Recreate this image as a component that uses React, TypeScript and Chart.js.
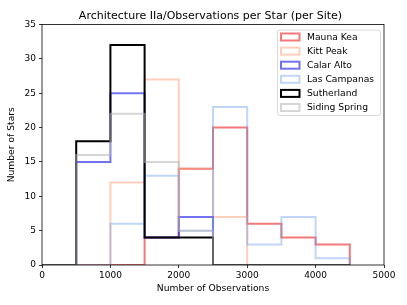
import React, { useEffect, useRef } from "react";
import { Chart, registerables } from "chart.js";

Chart.register(...registerables);

const binEdges = [0, 500, 1000, 1500, 2000, 2500, 3000, 3500, 4000, 4500];
const siteNames = ["Mauna Kea", "Kitt Peak", "Calar Alto", "Las Campanas", "Sutherland", "Siding Spring"];
const maunaKea = [0, 0, 0, 4, 14, 20, 6, 4, 3];
const kittPeak = [0, 0, 12, 27, 14, 7, 0, 0, 0];
const calarAlto = [0, 15, 25, 4, 7, 0, 0, 0, 0];
const lasCampanas = [0, 0, 6, 13, 5, 23, 3, 7, 1];
const sutherland = [0, 18, 32, 4, 4, 0, 0, 0, 0];
const sidingSpring = [0, 16, 22, 15, 5, 0, 0, 0, 0];
const siteColors = [
  "rgba(235,30,30,0.6)",
  "rgba(255,160,122,0.5)",
  "rgba(0,0,230,0.55)",
  "rgba(100,149,237,0.4)",
  "rgba(0,0,0,1)",
  "rgba(180,180,180,0.55)",
];
const xTicks = [0, 1000, 2000, 3000, 4000, 5000];
const yTicks = [0, 5, 10, 15, 20, 25, 30, 35];
const titleText = "Architecture IIa/Observations per Star (per Site)";
const xLabel = "Number of Observations";
const yLabel = "Number of Stars";

const FONT = '"DejaVu Sans", sans-serif';
const FS = 9.2;
const TICK_FS = 9;

function stepPoints(counts: number[]) {
  const pts: { x: number; y: number }[] = [{ x: binEdges[0], y: 0 }];
  counts.forEach((c, i) => pts.push({ x: binEdges[i + 1], y: c }));
  pts.push({ x: binEdges[binEdges.length - 1], y: 0 });
  return pts;
}

const overlay = {
  id: "mplOverlay",
  afterDatasetsDraw(chart: any) {
    const { ctx, chartArea: a } = chart;
    ctx.save();
    ctx.strokeStyle = "#000";
    ctx.lineWidth = 0.8;
    ctx.strokeRect(a.left, a.top, a.right - a.left, a.bottom - a.top);
    ctx.fillStyle = "#000";
    ctx.font = `11px ${FONT}`;
    ctx.textAlign = "center";
    ctx.textBaseline = "alphabetic";
    ctx.fillText(titleText, 210.5, 18.5);
    ctx.font = `${FS}px ${FONT}`;
    ctx.textBaseline = "middle";
    ctx.fillText(xLabel, 213, 289);
    ctx.save();
    ctx.translate(11.5, (a.top + a.bottom) / 2);
    ctx.rotate(-Math.PI / 2);
    ctx.fillText(yLabel, 0, 0);
    ctx.restore();
    const lx = 277.5, ly = 30, lw = 103, lh = 85.5, r = 2.5;
    ctx.beginPath();
    ctx.moveTo(lx + r, ly);
    ctx.lineTo(lx + lw - r, ly);
    ctx.arcTo(lx + lw, ly, lx + lw, ly + r, r);
    ctx.lineTo(lx + lw, ly + lh - r);
    ctx.arcTo(lx + lw, ly + lh, lx + lw - r, ly + lh, r);
    ctx.lineTo(lx + r, ly + lh);
    ctx.arcTo(lx, ly + lh, lx, ly + lh - r, r);
    ctx.lineTo(lx, ly + r);
    ctx.arcTo(lx, ly, lx + r, ly, r);
    ctx.closePath();
    ctx.fillStyle = "rgba(255,255,255,0.8)";
    ctx.fill();
    ctx.strokeStyle = "#d0d0d0";
    ctx.lineWidth = 0.8;
    ctx.stroke();
    ctx.textAlign = "left";
    ctx.textBaseline = "middle";
    siteNames.forEach((name, i) => {
      const cy = 37 + i * 14.1;
      ctx.strokeStyle = siteColors[i];
      ctx.lineWidth = 2;
      ctx.lineJoin = "miter";
      ctx.strokeRect(281, cy - 3.5, 18.5, 7);
      ctx.fillStyle = "#000";
      ctx.fillText(name, 307, cy + 0.5);
    });
    ctx.restore();
  },
};

export default function App() {
  const ref = useRef<HTMLCanvasElement>(null);
  useEffect(() => {
    if (!ref.current) return;
    const series = [maunaKea, kittPeak, calarAlto, lasCampanas, sutherland, sidingSpring];
    const chart = new Chart(ref.current, {
      type: "line",
      data: {
        datasets: series.map((s, i) => ({
          label: siteNames[i],
          data: stepPoints(s),
          borderColor: siteColors[i],
          backgroundColor: siteColors[i],
          borderWidth: 2,
          stepped: "after" as const,
          pointRadius: 0,
          fill: false,
          order: series.length - 1 - i,
          clip: 0,
          borderJoinStyle: "miter" as const,
          borderCapStyle: "butt" as const,
        })),
      },
      options: {
        responsive: false,
        animation: false,
        layout: { padding: { top: 24.5, right: 23, left: 0, bottom: 0 } },
        plugins: { legend: { display: false }, title: { display: false }, tooltip: { enabled: false } },
        scales: {
          x: {
            type: "linear",
            min: 0,
            max: 5000,
            afterFit: (s: any) => { s.height = 40; },
            afterBuildTicks: (s: any) => { s.ticks = xTicks.map((v) => ({ value: v })); },
            ticks: { color: "#000", font: { family: FONT, size: TICK_FS }, padding: 2.5, maxRotation: 0, autoSkip: false, callback: (v: any) => String(v) },
            grid: { drawOnChartArea: false, drawTicks: true, tickLength: 3, tickColor: "#000", tickWidth: 0.8 },
            border: { display: false },
          },
          y: {
            type: "linear",
            min: 0,
            max: 35,
            afterFit: (s: any) => { s.width = 42; },
            afterBuildTicks: (s: any) => { s.ticks = yTicks.map((v) => ({ value: v })); },
            ticks: { color: "#000", font: { family: FONT, size: TICK_FS }, padding: 3, autoSkip: false, callback: (v: any) => String(v) },
            grid: { drawOnChartArea: false, drawTicks: true, tickLength: 3, tickColor: "#000", tickWidth: 0.8 },
            border: { display: false },
          },
        },
      },
      plugins: [overlay],
    });
    return () => chart.destroy();
  }, []);
  return (
    <div style={{ position: "absolute", left: 0, top: 0, width: 407, height: 305, background: "#fff" }}>
      <canvas ref={ref} width={407} height={305} style={{ display: "block" }} />
    </div>
  );
}
